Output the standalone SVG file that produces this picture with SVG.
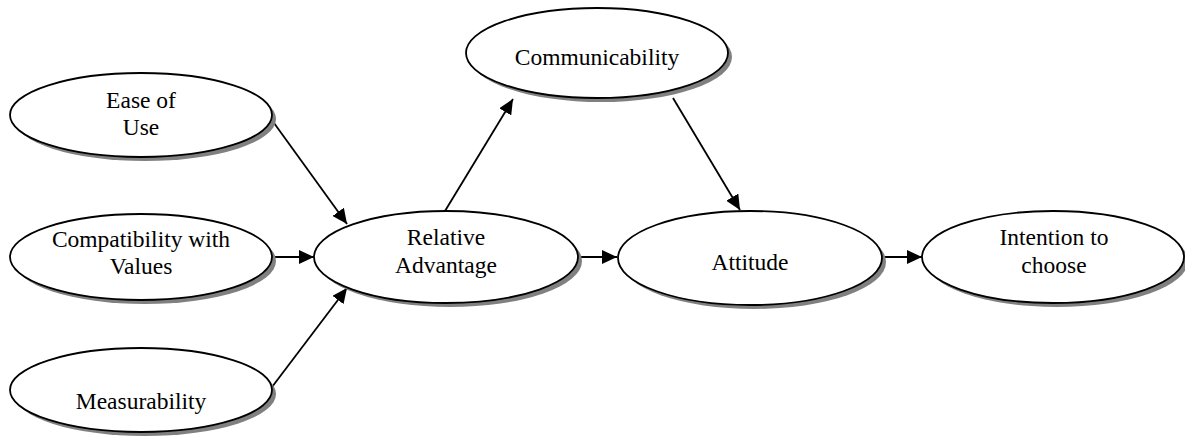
<svg xmlns="http://www.w3.org/2000/svg" width="1185" height="438" viewBox="0 0 1185 438">
<defs>
<marker id="arr" markerUnits="userSpaceOnUse" markerWidth="16" markerHeight="14" refX="15" refY="7" orient="auto">
<path d="M0,0 L15,7 L0,14 Z" fill="#000"/>
</marker>
</defs>
<style>
.sh{fill:#808080;stroke:none}
.el{fill:#fff;stroke:#000;stroke-width:1.8}
.t{font-family:"Liberation Serif","Times New Roman",serif;font-size:23.5px;fill:#000;text-anchor:middle}
.c{stroke:#000;stroke-width:1.8;fill:none;marker-end:url(#arr)}
</style>
<rect width="1185" height="438" fill="#fff"/>
<g id="connectors">
<line class="c" x1="274" y1="123" x2="347" y2="224"/>
<line class="c" x1="273" y1="257" x2="314" y2="257"/>
<line class="c" x1="272" y1="387" x2="347" y2="288"/>
<line class="c" x1="445" y1="211" x2="513" y2="99"/>
<line class="c" x1="673" y1="98" x2="740" y2="210"/>
<line class="c" x1="578" y1="257" x2="617" y2="257"/>
<line class="c" x1="882" y1="257" x2="922" y2="257"/>
</g>
<g id="ease">
<ellipse class="sh" cx="145" cy="119" rx="131" ry="42"/>
<ellipse class="el" cx="141" cy="115" rx="131" ry="42"/>
<text class="t" x="141" y="108">Ease of</text>
<text class="t" x="141" y="135">Use</text>
</g>
<g id="compat">
<ellipse class="sh" cx="145" cy="261" rx="131" ry="43"/>
<ellipse class="el" cx="141" cy="257" rx="131" ry="43"/>
<text class="t" x="141" y="247">Compatibility with</text>
<text class="t" x="141" y="274">Values</text>
</g>
<g id="measure">
<ellipse class="sh" cx="145" cy="394" rx="131" ry="42"/>
<ellipse class="el" cx="141" cy="390" rx="131" ry="42"/>
<text class="t" x="141" y="409">Measurability</text>
</g>
<g id="comm">
<ellipse class="sh" cx="601" cy="57" rx="131" ry="45"/>
<ellipse class="el" cx="597" cy="53" rx="131" ry="45"/>
<text class="t" x="597" y="65">Communicability</text>
</g>
<g id="relative">
<ellipse class="sh" cx="450" cy="261" rx="132" ry="46"/>
<ellipse class="el" cx="446" cy="257" rx="132" ry="46"/>
<text class="t" x="446" y="245">Relative</text>
<text class="t" x="446" y="273">Advantage</text>
</g>
<g id="attitude">
<ellipse class="sh" cx="754" cy="262" rx="132" ry="47"/>
<ellipse class="el" cx="750" cy="258" rx="132" ry="47"/>
<text class="t" x="750" y="270">Attitude</text>
</g>
<g id="intention">
<ellipse class="sh" cx="1057" cy="261" rx="131" ry="46"/>
<ellipse class="el" cx="1053" cy="257" rx="131" ry="46"/>
<text class="t" x="1054" y="245">Intention to</text>
<text class="t" x="1054" y="273">choose</text>
</g>
</svg>
